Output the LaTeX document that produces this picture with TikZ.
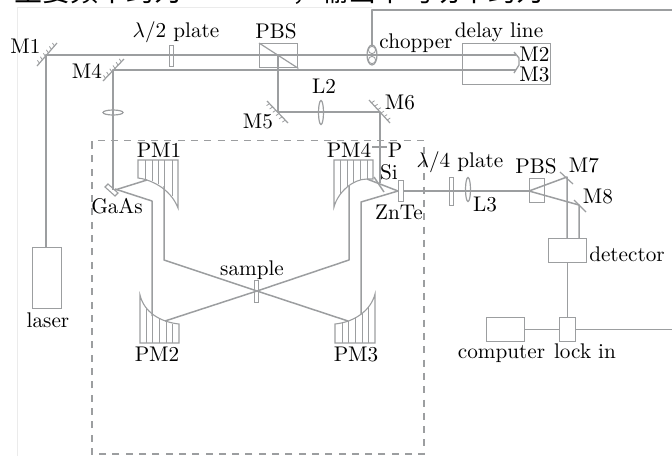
\documentclass[tikz,border=0pt]{standalone}
\usepackage{fontspec}
\newfontfamily\cjkf{Noto Sans CJK SC}
\definecolor{beam}{HTML}{9C9EA0}
\tikzset{
  x=1pt,y=-1pt,
  beamline/.style={draw=beam,line width=1.5pt,line join=round},
  thinline/.style={draw=beam,line width=0.9pt},
  lbl/.style={anchor=base,inner sep=0pt,scale=2.12,font=\fontsize{10}{12}\selectfont,text=black},
  dashbox/.style={draw=beam,line width=1.4pt,dash pattern=on 7pt off 6.3pt},
  lensshape/.style={draw=beam,line width=1.2pt,ellipse,inner sep=0pt}
}
\usetikzlibrary{shapes.geometric,calc}
% box by corners, named
\newcommand{\obox}[5]{\node[draw=beam,line width=1.4pt,inner sep=0pt,minimum width=#4-#2,minimum height=#5-#3,anchor=north west] (#1) at (#2,#3) {};}
% hatched flat mirror: name a, name b, hatch offset
\newcommand{\hmirror}[3]{%
  \draw[thinline,line width=1.2pt] (#1) -- (#2);
  \foreach \t in {0.12,0.27,0.42,0.57,0.72,0.87}{
    \draw[draw=beam,line width=0.8pt] ($(#1)!\t!(#2)$) -- ++(#3);}}
\begin{document}
\begin{tikzpicture}
\useasboundingbox (0,0) rectangle (672,456);
\clip (0,0) rectangle (672,456);
% faint scan edge and clipped caption line above the figure
\draw[color=black!8,line width=1pt] (17,456) -- (17,7) -- (372,7);
\node[anchor=base west,inner sep=0pt,font=\cjkf\fontsize{28}{28}\selectfont] (captiona) at (-14,1) {，主要频率约为};
\node[anchor=base west,inner sep=0pt,font=\cjkf\fontsize{28}{28}\selectfont] (captionb) at (292,1) {，输出平均功率约为};
% named points
\coordinate (m1) at (46,55);
\coordinate (m4) at (113,70);
\coordinate (m5) at (278,112);
\coordinate (m6) at (380,112);
\coordinate (m2) at (516,55);
\coordinate (m3) at (516,70);
\coordinate (m7) at (567,177);
\coordinate (m8) at (579,205);
\coordinate (m1a) at (37,66); \coordinate (m1b) at (57,43);
\coordinate (m4a) at (103,81); \coordinate (m4b) at (124,59);
\coordinate (m5a) at (267,101); \coordinate (m5b) at (288,123);
\coordinate (m6a) at (369,100); \coordinate (m6b) at (390,123);
\coordinate (gaas) at (113,190);
\coordinate (xs) at (257,291);
\coordinate (rightend) at (672,329);
% boxes
\obox{laserbox}{32}{247}{61}{308}
\obox{pbsa}{259}{43}{297}{67}
\obox{hwp}{169}{45}{173}{66}
\obox{delay}{462}{43}{550}{84}
\obox{znte}{398}{180}{403}{201}
\obox{qwp}{449}{177}{453}{205}
\obox{pbsb}{529}{178}{544}{202}
\obox{det}{548}{238}{586}{262}
\obox{lockin}{559}{317}{575}{341}
\obox{comp}{486}{317}{524}{341}
\obox{samplebox}{254}{280}{258}{302}
% dashed enclosure
\draw[dashbox] (92,148) -- (92,140.5) -- (424,140.5) -- (424,454) -- (92,454) -- cycle;
% beams
\draw[beamline] (laserbox.north-|m1) -- (m1) -- (m2);
\draw[beamline] (m3) -- (m4) -- (gaas);
\draw[beamline] (m1-|m5) -- (m5) -- (m6) -- (380,183);
\draw[thinline,line width=1.2pt] (pbsa.north west) -- (pbsa.south east);
\draw[beamline] (372,45) -- (372,10) -- (672,10);
% optics after the source
\draw[beamline] (115,190) -- (147,180);
\draw[beamline] (115,189) -- (152,201) -- (152,316);
\draw[beamline] (164,186) -- (164,260) -- (xs) -- (348,321);
\draw[beamline] (349,186) -- (349,260) -- (xs) -- (165,321);
\draw[beamline] (367,179) -- (398,191) -- (361,202) -- (361,314);
\draw[beamline] (znte.east|-0,191) -- (pbsb.west|-0,191);
\draw[beamline] (529,191) -- (m7) -- (m7|-det.north);
\draw[beamline] (529,191) -- (m8) -- (m8|-det.north);
\draw[beamline] (det.south-|lockin) -- (lockin.north);
\draw[beamline] (comp.east) -- (lockin.west);
\draw[beamline] (lockin.east) -- (lockin.east-|rightend);
% flat mirrors
\hmirror{m1a}{m1b}{-2,-3}
\hmirror{m4a}{m4b}{-2,-3}
\hmirror{m5a}{m5b}{-3,2}
\hmirror{m6a}{m6b}{3,-2}
\draw[thinline,line width=1.2pt] (560,172) -- (573,184);
\draw[thinline,line width=1.2pt] (574,200) -- (586,212);
\draw[thinline,line width=1.4pt] (374,177) -- (384,192);
% GaAs element
\draw[draw=beam,line width=1.1pt] (105,187) -- (108,184) -- (118,193) -- (115,196) -- cycle;
% delay retro mirrors
\draw[thinline,line width=1.3pt] (514,52) -- (519,58) -- (519,65) -- (514,73);
% P
\draw[beamline] (372,147) -- (387,147);
% lenses
\node[lensshape,minimum width=20pt,minimum height=5pt] (la) at (113,112.5) {};
\node[lensshape,minimum width=5pt,minimum height=24pt] (lb) at (321,112.5) {};
\node[lensshape,minimum width=5pt,minimum height=24pt] (lc) at (468,189.5) {};
% chopper
\node[lensshape,minimum width=10pt,minimum height=20pt] (chop) at (372,55) {};
\draw[thinline] (372,50) circle (3.6);
\draw[thinline] (372,60) circle (3.6);
% parabolic mirrors
\draw[thinline,line width=1.1pt] (138,178) .. controls (148,179) and (170,187) .. (178,208) -- (178,160) -- (138,160) -- cycle;
\foreach \x/\y in {145/179.5,152/181,158/183.5,164/187,172/196}{\draw[thinline] (\x,160) -- (\x,\y);}
\draw[thinline,line width=1.1pt] (334,207) .. controls (338,192) and (353,179) .. (367,179) -- (373,179) -- (373,160) -- (334,160) -- cycle;
\foreach \x/\y in {340/194,347/187,353/183,360/180,367/179}{\draw[thinline] (\x,160) -- (\x,\y);}
\draw[thinline,line width=1.1pt] (140,295) .. controls (144,312) and (160,322) .. (179,324) -- (179,343) -- (140,343) -- cycle;
\foreach \x/\y in {146/308,152/314,159/318.5,166/321.5,172/323.5}{\draw[thinline] (\x,\y) -- (\x,343);}
\draw[thinline,line width=1.1pt] (335,324) .. controls (355,322) and (371,310) .. (375,294) -- (375,343) -- (335,343) -- cycle;
\foreach \x/\y in {342/323,348/321,355/317,362/313,368/307}{\draw[thinline] (\x,\y) -- (\x,343);}
% labels
\node[lbl] (tm1) at (25.5,53) {M1};
\node[lbl] (tm4) at (87,78) {M4};
\node[lbl] (thwp) at (176,37) {$\lambda$/2 plate};
\node[lbl] (tpbsa) at (276,38) {PBS};
\node[lbl] (tl2) at (324,93) {L2};
\node[lbl] (tm5) at (258,128) {M5};
\node[lbl] (tchop) at (416,48) {chopper};
\node[lbl] (tdelay) at (499,37) {delay line};
\node[lbl] (tm2) at (534.5,61) {M2};
\node[lbl] (tm3) at (534.5,81) {M3};
\node[lbl] (tm6) at (400,109) {M6};
\node[lbl] (tpm1) at (159,157) {PM1};
\node[lbl] (tgaas) at (117,213) {GaAs};
\node[lbl] (tpm4) at (349,157) {PM4};
\node[lbl] (tp) at (395,157) {P};
\node[lbl] (tsi) at (389,179) {Si};
\node[lbl] (tznte) at (399,219) {ZnTe};
\node[lbl] (tqwp) at (460,167) {$\lambda$/4 plate};
\node[lbl] (tpbsb) at (536,173) {PBS};
\node[lbl] (tm7) at (584,172) {M7};
\node[lbl] (tm8) at (598,203) {M8};
\node[lbl] (tl3) at (485,211) {L3};
\node[lbl] (tdet) at (627,261) {detector};
\node[lbl] (tcomp) at (501.5,358) {computer};
\node[lbl] (tlock) at (585,358) {lock in};
\node[lbl] (tlaser) at (48,327) {laser};
\node[lbl] (tsample) at (252,275) {sample};
\node[lbl] (tpm2) at (157,361) {PM2};
\node[lbl] (tpm3) at (356,361) {PM3};
\end{tikzpicture}
\end{document}
